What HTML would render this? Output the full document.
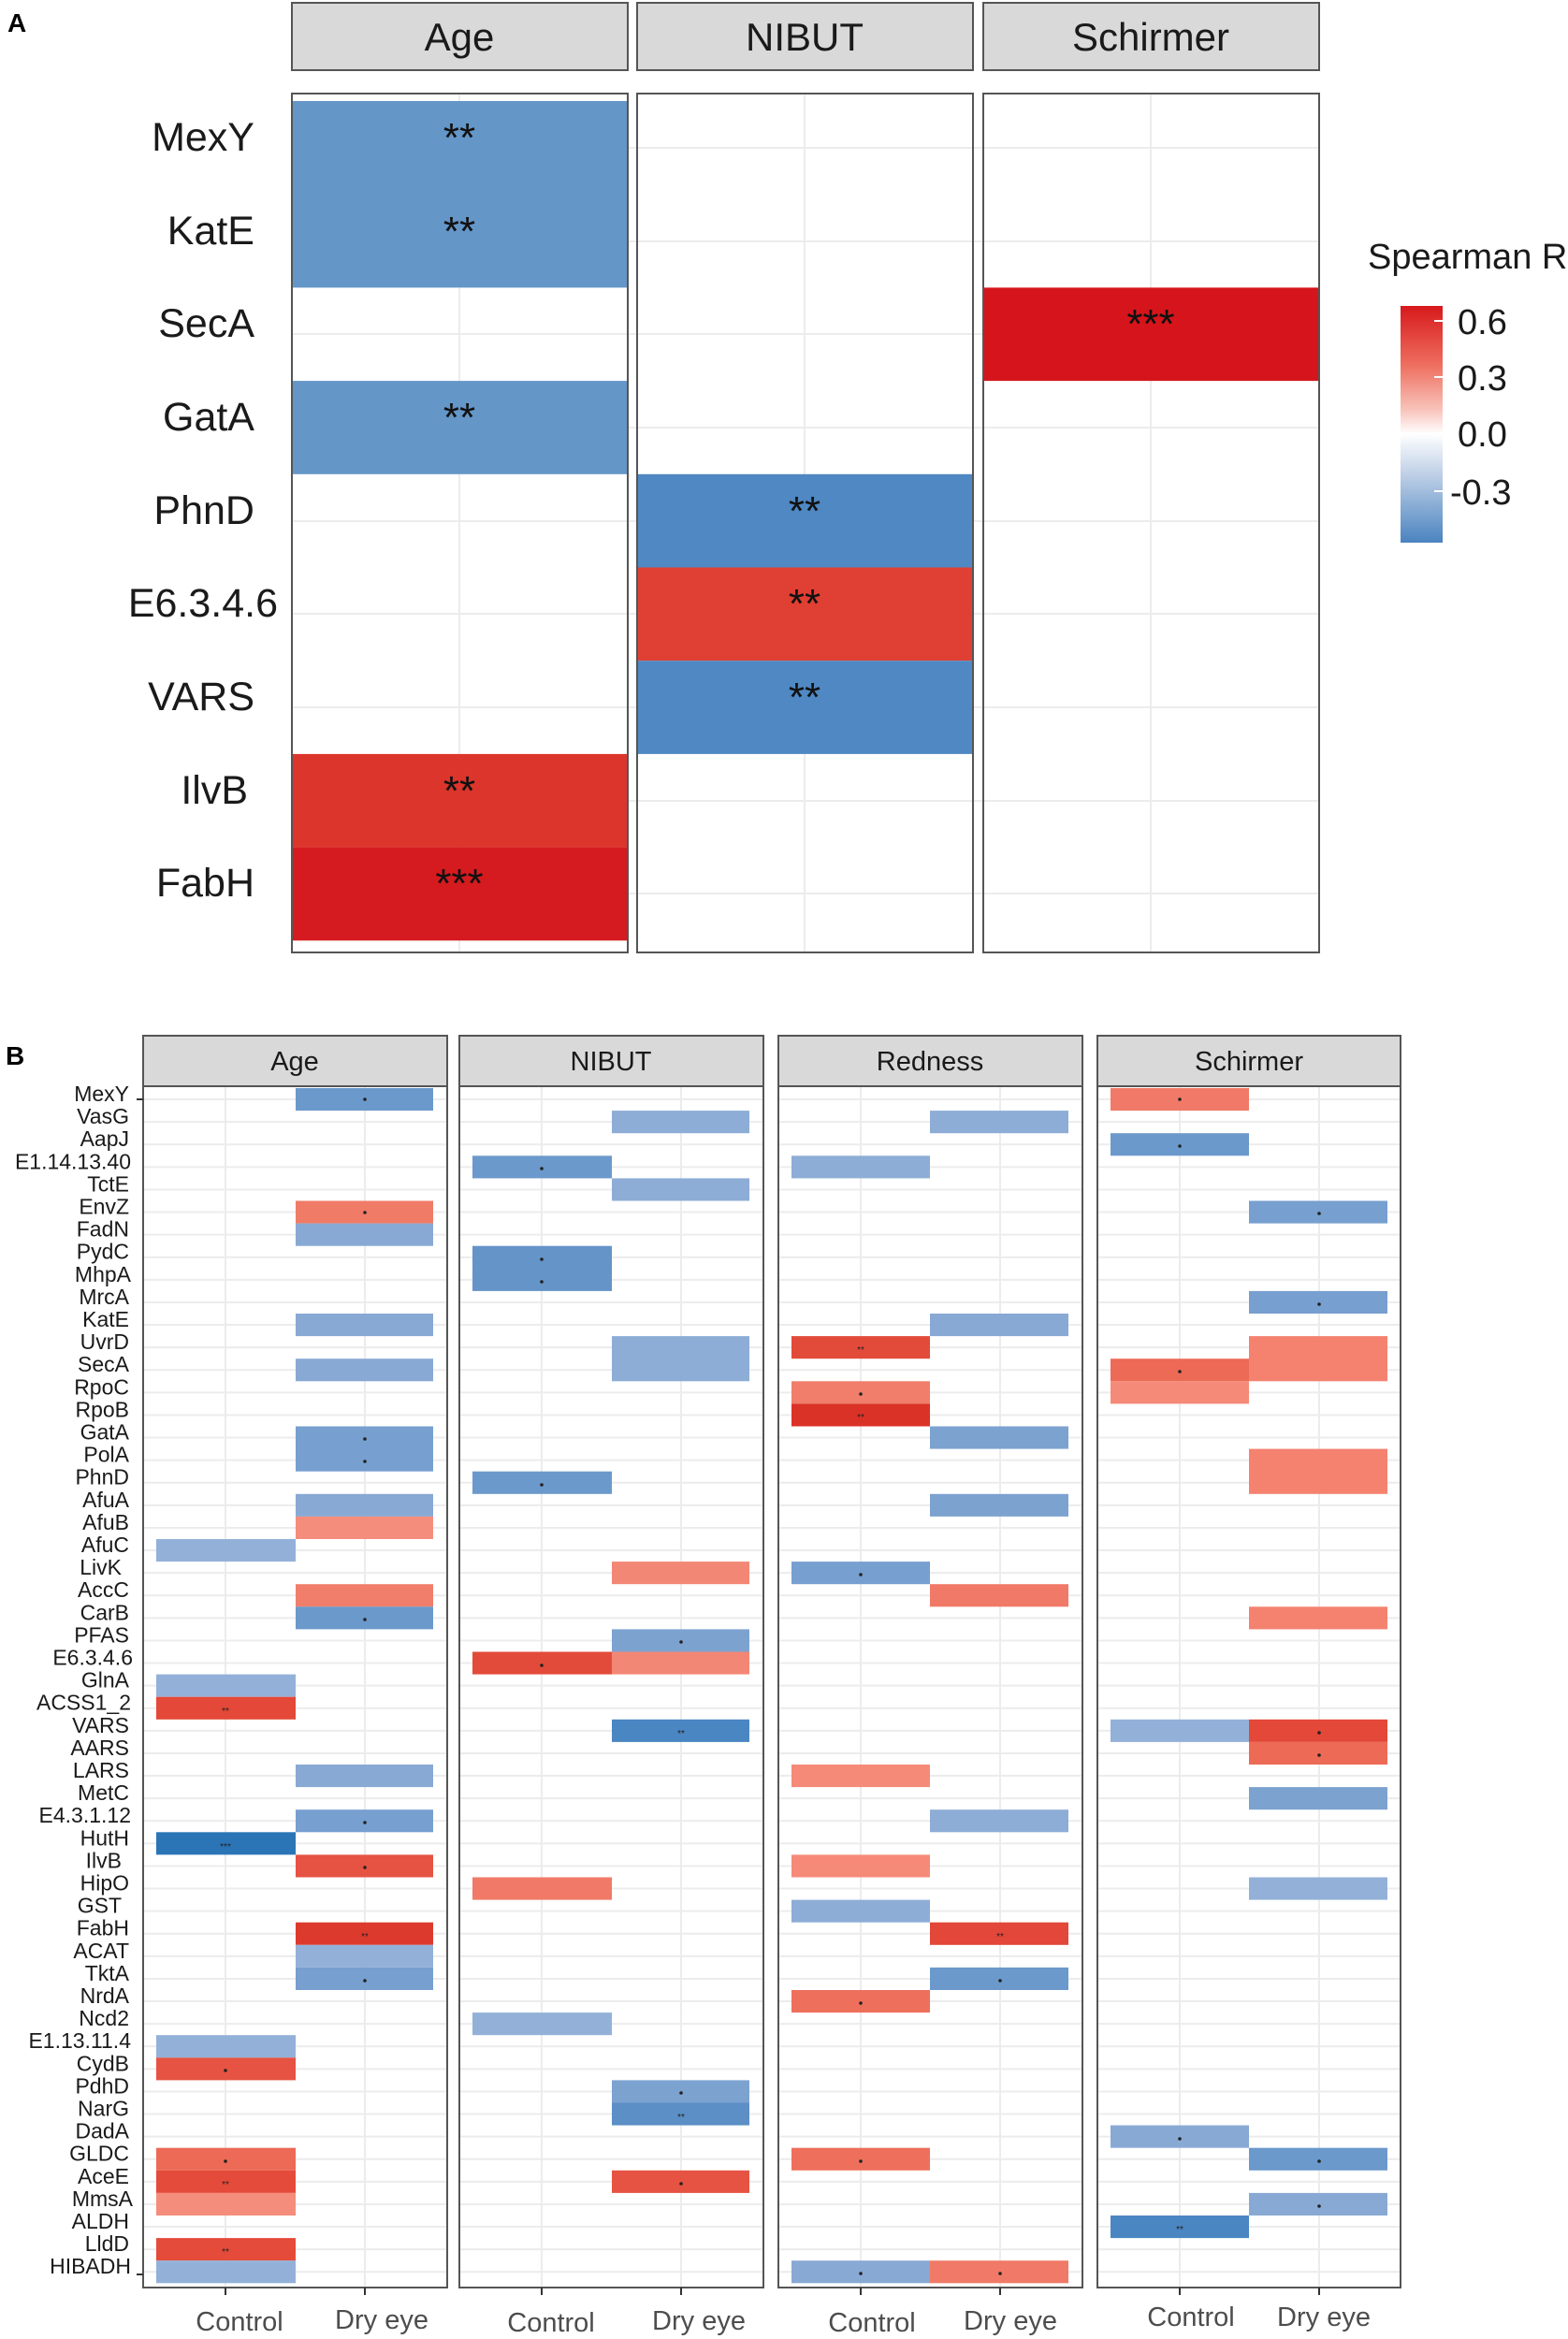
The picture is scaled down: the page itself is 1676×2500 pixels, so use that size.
<!DOCTYPE html>
<html><head><meta charset="utf-8">
<style>
html,body{margin:0;padding:0;background:#fff;}
svg{display:block;font-family:"Liberation Sans",sans-serif;}
</style></head>
<body>
<svg width="1676" height="2500" viewBox="0 0 1676 2500" xmlns="http://www.w3.org/2000/svg">
<defs>
<linearGradient id="cb" x1="0" y1="0" x2="0" y2="1">
<stop offset="0" stop-color="#d7191c"/>
<stop offset="0.25" stop-color="#ee6f5f"/>
<stop offset="0.44" stop-color="#f8c4bb"/>
<stop offset="0.54" stop-color="#ffffff"/>
<stop offset="0.7" stop-color="#c3d3e8"/>
<stop offset="1" stop-color="#4a83c0"/>
</linearGradient>
</defs>
<rect width="1676" height="2500" fill="#fff"/>

<!-- ================= PANEL A ================= -->
<text x="8" y="34" font-size="28" font-weight="bold">A</text>
<g fill="#d9d9d9" stroke="#555" stroke-width="2">
<rect x="312" y="3" width="359" height="72"/>
<rect x="681" y="3" width="359" height="72"/>
<rect x="1051" y="3" width="359" height="72"/>
</g>
<g font-size="42" text-anchor="middle" fill="#1a1a1a">
<text x="491" y="54">Age</text>
<text x="860" y="54">NIBUT</text>
<text x="1230" y="54">Schirmer</text>
</g>
<g stroke="#ececec" stroke-width="2">
<line x1="491" y1="100" x2="491" y2="1018"/><line x1="860" y1="100" x2="860" y2="1018"/><line x1="1230" y1="100" x2="1230" y2="1018"/>
<line x1="312" y1="158" x2="1410" y2="158"/><line x1="312" y1="258" x2="1410" y2="258"/><line x1="312" y1="357" x2="1410" y2="357"/><line x1="312" y1="457" x2="1410" y2="457"/><line x1="312" y1="557" x2="1410" y2="557"/><line x1="312" y1="656" x2="1410" y2="656"/><line x1="312" y1="756" x2="1410" y2="756"/><line x1="312" y1="856" x2="1410" y2="856"/><line x1="312" y1="955" x2="1410" y2="955"/>
</g>
<rect x="312" y="108" width="359" height="199.4" fill="#6496c8"/>
<rect x="312" y="407.1" width="359" height="99.7" fill="#6496c8"/>
<rect x="312" y="805.9" width="359" height="99.7" fill="#dc352b"/>
<rect x="312" y="905.6" width="359" height="99.7" fill="#d51b1f"/>
<rect x="681" y="506.8" width="359" height="99.7" fill="#4f88c2"/>
<rect x="681" y="606.5" width="359" height="99.7" fill="#e03f33"/>
<rect x="681" y="706.2" width="359" height="99.7" fill="#4f88c2"/>
<rect x="1051" y="307.4" width="359" height="99.7" fill="#d5151b"/>
<g fill="none" stroke="#555" stroke-width="2">
<rect x="312" y="100" width="359" height="918"/>
<rect x="681" y="100" width="359" height="918"/>
<rect x="1051" y="100" width="359" height="918"/>
</g>
<g font-size="44" text-anchor="middle" fill="#111">
<text x="491" y="162">**</text>
<text x="491" y="262">**</text>
<text x="491" y="461">**</text>
<text x="491" y="860">**</text>
<text x="491" y="959">***</text>
<text x="860" y="561">**</text>
<text x="860" y="660">**</text>
<text x="860" y="760">**</text>
<text x="1230" y="361">***</text>
</g>
<g font-size="43" text-anchor="end" fill="#1a1a1a">
<text x="272" y="161">MexY</text>
<text x="272" y="261">KatE</text>
<text x="272" y="360">SecA</text>
<text x="272" y="460">GatA</text>
<text x="272" y="560">PhnD</text>
<text x="297" y="659">E6.3.4.6</text>
<text x="272" y="759">VARS</text>
<text x="265" y="859">IlvB</text>
<text x="272" y="958">FabH</text>
</g>
<!-- legend -->
<text x="1462" y="287" font-size="38" fill="#1a1a1a">Spearman R</text>
<rect x="1497" y="327" width="45" height="253" fill="url(#cb)"/>
<g stroke="#fff" stroke-width="2">
<line x1="1533" y1="343" x2="1542" y2="343"/><line x1="1533" y1="403" x2="1542" y2="403"/><line x1="1533" y1="463" x2="1542" y2="463"/><line x1="1533" y1="525" x2="1542" y2="525"/>
</g>
<g font-size="38" fill="#1a1a1a">
<text x="1558" y="357">0.6</text>
<text x="1558" y="417">0.3</text>
<text x="1558" y="477">0.0</text>
<text x="1550" y="539">-0.3</text>
</g>

<!-- ================= PANEL B ================= -->
<text x="6" y="1138" font-size="28" font-weight="bold">B</text>
<g fill="#d9d9d9" stroke="#555" stroke-width="2">
<rect x="153" y="1107" width="325" height="54"/>
<rect x="491" y="1107" width="325" height="54"/>
<rect x="832" y="1107" width="325" height="54"/>
<rect x="1173" y="1107" width="324" height="54"/>
</g>
<g font-size="29" text-anchor="middle" fill="#1a1a1a">
<text x="315" y="1144">Age</text>
<text x="653" y="1144">NIBUT</text>
<text x="994" y="1144">Redness</text>
<text x="1335" y="1144">Schirmer</text>
</g>

<g transform="translate(0,1163) scale(1,24.1)">
 <g stroke="#ececec" stroke-width="2">
  <line x1="153" x2="1497" y1="0.5" y2="0.5" vector-effect="non-scaling-stroke"/><line x1="153" x2="1497" y1="1.5" y2="1.5" vector-effect="non-scaling-stroke"/><line x1="153" x2="1497" y1="2.5" y2="2.5" vector-effect="non-scaling-stroke"/><line x1="153" x2="1497" y1="3.5" y2="3.5" vector-effect="non-scaling-stroke"/><line x1="153" x2="1497" y1="4.5" y2="4.5" vector-effect="non-scaling-stroke"/><line x1="153" x2="1497" y1="5.5" y2="5.5" vector-effect="non-scaling-stroke"/><line x1="153" x2="1497" y1="6.5" y2="6.5" vector-effect="non-scaling-stroke"/><line x1="153" x2="1497" y1="7.5" y2="7.5" vector-effect="non-scaling-stroke"/><line x1="153" x2="1497" y1="8.5" y2="8.5" vector-effect="non-scaling-stroke"/><line x1="153" x2="1497" y1="9.5" y2="9.5" vector-effect="non-scaling-stroke"/>
  <line x1="153" x2="1497" y1="10.5" y2="10.5" vector-effect="non-scaling-stroke"/><line x1="153" x2="1497" y1="11.5" y2="11.5" vector-effect="non-scaling-stroke"/><line x1="153" x2="1497" y1="12.5" y2="12.5" vector-effect="non-scaling-stroke"/><line x1="153" x2="1497" y1="13.5" y2="13.5" vector-effect="non-scaling-stroke"/><line x1="153" x2="1497" y1="14.5" y2="14.5" vector-effect="non-scaling-stroke"/><line x1="153" x2="1497" y1="15.5" y2="15.5" vector-effect="non-scaling-stroke"/><line x1="153" x2="1497" y1="16.5" y2="16.5" vector-effect="non-scaling-stroke"/><line x1="153" x2="1497" y1="17.5" y2="17.5" vector-effect="non-scaling-stroke"/><line x1="153" x2="1497" y1="18.5" y2="18.5" vector-effect="non-scaling-stroke"/><line x1="153" x2="1497" y1="19.5" y2="19.5" vector-effect="non-scaling-stroke"/>
  <line x1="153" x2="1497" y1="20.5" y2="20.5" vector-effect="non-scaling-stroke"/><line x1="153" x2="1497" y1="21.5" y2="21.5" vector-effect="non-scaling-stroke"/><line x1="153" x2="1497" y1="22.5" y2="22.5" vector-effect="non-scaling-stroke"/><line x1="153" x2="1497" y1="23.5" y2="23.5" vector-effect="non-scaling-stroke"/><line x1="153" x2="1497" y1="24.5" y2="24.5" vector-effect="non-scaling-stroke"/><line x1="153" x2="1497" y1="25.5" y2="25.5" vector-effect="non-scaling-stroke"/><line x1="153" x2="1497" y1="26.5" y2="26.5" vector-effect="non-scaling-stroke"/><line x1="153" x2="1497" y1="27.5" y2="27.5" vector-effect="non-scaling-stroke"/><line x1="153" x2="1497" y1="28.5" y2="28.5" vector-effect="non-scaling-stroke"/><line x1="153" x2="1497" y1="29.5" y2="29.5" vector-effect="non-scaling-stroke"/>
  <line x1="153" x2="1497" y1="30.5" y2="30.5" vector-effect="non-scaling-stroke"/><line x1="153" x2="1497" y1="31.5" y2="31.5" vector-effect="non-scaling-stroke"/><line x1="153" x2="1497" y1="32.5" y2="32.5" vector-effect="non-scaling-stroke"/><line x1="153" x2="1497" y1="33.5" y2="33.5" vector-effect="non-scaling-stroke"/><line x1="153" x2="1497" y1="34.5" y2="34.5" vector-effect="non-scaling-stroke"/><line x1="153" x2="1497" y1="35.5" y2="35.5" vector-effect="non-scaling-stroke"/><line x1="153" x2="1497" y1="36.5" y2="36.5" vector-effect="non-scaling-stroke"/><line x1="153" x2="1497" y1="37.5" y2="37.5" vector-effect="non-scaling-stroke"/><line x1="153" x2="1497" y1="38.5" y2="38.5" vector-effect="non-scaling-stroke"/><line x1="153" x2="1497" y1="39.5" y2="39.5" vector-effect="non-scaling-stroke"/>
  <line x1="153" x2="1497" y1="40.5" y2="40.5" vector-effect="non-scaling-stroke"/><line x1="153" x2="1497" y1="41.5" y2="41.5" vector-effect="non-scaling-stroke"/><line x1="153" x2="1497" y1="42.5" y2="42.5" vector-effect="non-scaling-stroke"/><line x1="153" x2="1497" y1="43.5" y2="43.5" vector-effect="non-scaling-stroke"/><line x1="153" x2="1497" y1="44.5" y2="44.5" vector-effect="non-scaling-stroke"/><line x1="153" x2="1497" y1="45.5" y2="45.5" vector-effect="non-scaling-stroke"/><line x1="153" x2="1497" y1="46.5" y2="46.5" vector-effect="non-scaling-stroke"/><line x1="153" x2="1497" y1="47.5" y2="47.5" vector-effect="non-scaling-stroke"/><line x1="153" x2="1497" y1="48.5" y2="48.5" vector-effect="non-scaling-stroke"/><line x1="153" x2="1497" y1="49.5" y2="49.5" vector-effect="non-scaling-stroke"/>
  <line x1="153" x2="1497" y1="50.5" y2="50.5" vector-effect="non-scaling-stroke"/><line x1="153" x2="1497" y1="51.5" y2="51.5" vector-effect="non-scaling-stroke"/><line x1="153" x2="1497" y1="52.5" y2="52.5" vector-effect="non-scaling-stroke"/>
 </g>
</g>
<g fill="#fff">
<rect x="479" y="1161" width="11" height="1290"/><rect x="817" y="1161" width="14" height="1290"/><rect x="1158" y="1161" width="14" height="1290"/>
</g>
<g stroke="#ececec" stroke-width="2">
<line x1="241" y1="1161" x2="241" y2="2445"/><line x1="390" y1="1161" x2="390" y2="2445"/>
<line x1="579" y1="1161" x2="579" y2="2445"/><line x1="728" y1="1161" x2="728" y2="2445"/>
<line x1="920" y1="1161" x2="920" y2="2445"/><line x1="1069" y1="1161" x2="1069" y2="2445"/>
<line x1="1261" y1="1161" x2="1261" y2="2445"/><line x1="1410" y1="1161" x2="1410" y2="2445"/>
</g>

<g transform="translate(0,1163) scale(1,24.1)">
 <rect x="316" y="0" width="147" height="1" fill="#6b99cb"/>
 <rect x="316" y="5" width="147" height="1" fill="#f07b66"/>
 <rect x="316" y="6" width="147" height="1" fill="#88a9d4"/>
 <rect x="316" y="10" width="147" height="1" fill="#88a9d4"/>
 <rect x="316" y="12" width="147" height="1" fill="#88a9d4"/>
 <rect x="316" y="15" width="147" height="2" fill="#779fcf"/>
 <rect x="316" y="18" width="147" height="1" fill="#88a9d4"/>
 <rect x="316" y="19" width="147" height="1" fill="#f58d7d"/>
 <rect x="167" y="20" width="149" height="1" fill="#93b1d8"/>
 <rect x="316" y="22" width="147" height="1" fill="#f07e6a"/>
 <rect x="316" y="23" width="147" height="1" fill="#6b99cb"/>
 <rect x="167" y="26" width="149" height="1" fill="#93b1d8"/>
 <rect x="167" y="27" width="149" height="1" fill="#e34838"/>
 <rect x="316" y="30" width="147" height="1" fill="#88a9d4"/>
 <rect x="316" y="32" width="147" height="1" fill="#779fcf"/>
 <rect x="167" y="33" width="149" height="1" fill="#2b75b6"/>
 <rect x="316" y="34" width="147" height="1" fill="#e65342"/>
 <rect x="316" y="37" width="147" height="1" fill="#dd3a2e"/>
 <rect x="316" y="38" width="147" height="1" fill="#93b1d8"/>
 <rect x="316" y="39" width="147" height="1" fill="#779fcf"/>
 <rect x="167" y="42" width="149" height="1" fill="#93b1d8"/>
 <rect x="167" y="43" width="149" height="1" fill="#e65342"/>
 <rect x="167" y="47" width="149" height="1" fill="#ec6a56"/>
 <rect x="167" y="48" width="149" height="1" fill="#e44b3a"/>
 <rect x="167" y="49" width="149" height="1" fill="#f58d7d"/>
 <rect x="167" y="51" width="149" height="1" fill="#e44b3a"/>
 <rect x="167" y="52" width="149" height="1" fill="#93b1d8"/>

 <rect x="654" y="1" width="147" height="1" fill="#8dadd6"/>
 <rect x="505" y="3" width="149" height="1" fill="#6b99cb"/>
 <rect x="654" y="4" width="147" height="1" fill="#8dadd6"/>
 <rect x="505" y="7" width="149" height="2" fill="#6494c8"/>
 <rect x="654" y="11" width="147" height="2" fill="#8dadd6"/>
 <rect x="505" y="17" width="149" height="1" fill="#6b99cb"/>
 <rect x="654" y="21" width="147" height="1" fill="#f38775"/>
 <rect x="654" y="24" width="147" height="1" fill="#7ca2d0"/>
 <rect x="505" y="25" width="149" height="1" fill="#e24b3a"/>
 <rect x="654" y="25" width="147" height="1" fill="#f38775"/>
 <rect x="654" y="28" width="147" height="1" fill="#4a86c2"/>
 <rect x="505" y="35" width="149" height="1" fill="#f07a67"/>
 <rect x="505" y="41" width="149" height="1" fill="#93b1d8"/>
 <rect x="654" y="44" width="147" height="1" fill="#7ca2d0"/>
 <rect x="654" y="45" width="147" height="1" fill="#5b8fc6"/>
 <rect x="654" y="48" width="147" height="1" fill="#e65342"/>

 <rect x="994" y="1" width="148" height="1" fill="#8dadd6"/>
 <rect x="846" y="3" width="148" height="1" fill="#8dadd6"/>
 <rect x="994" y="10" width="148" height="1" fill="#88a9d4"/>
 <rect x="846" y="11" width="148" height="1" fill="#e24b3a"/>
 <rect x="846" y="13" width="148" height="1" fill="#f07e6a"/>
 <rect x="846" y="14" width="148" height="1" fill="#db3228"/>
 <rect x="994" y="15" width="148" height="1" fill="#7ca2d0"/>
 <rect x="994" y="18" width="148" height="1" fill="#7ca2d0"/>
 <rect x="846" y="21" width="148" height="1" fill="#779fcf"/>
 <rect x="994" y="22" width="148" height="1" fill="#f07a67"/>
 <rect x="846" y="30" width="148" height="1" fill="#f58a78"/>
 <rect x="994" y="32" width="148" height="1" fill="#8dadd6"/>
 <rect x="846" y="34" width="148" height="1" fill="#f58a78"/>
 <rect x="846" y="36" width="148" height="1" fill="#8dadd6"/>
 <rect x="994" y="37" width="148" height="1" fill="#e2473a"/>
 <rect x="994" y="39" width="148" height="1" fill="#6b99cb"/>
 <rect x="846" y="40" width="148" height="1" fill="#ee6f5c"/>
 <rect x="846" y="47" width="148" height="1" fill="#ee6f5c"/>
 <rect x="846" y="52" width="148" height="1" fill="#88a9d4"/>
 <rect x="994" y="52" width="148" height="1" fill="#f07a67"/>

 <rect x="1187" y="0" width="148" height="1" fill="#f07a67"/>
 <rect x="1187" y="2" width="148" height="1" fill="#6b99cb"/>
 <rect x="1335" y="5" width="148" height="1" fill="#779fcf"/>
 <rect x="1335" y="9" width="148" height="1" fill="#779fcf"/>
 <rect x="1335" y="11" width="148" height="2" fill="#f4826f"/>
 <rect x="1187" y="12" width="148" height="1" fill="#ec6a56"/>
 <rect x="1187" y="13" width="148" height="1" fill="#f58a78"/>
 <rect x="1335" y="16" width="148" height="2" fill="#f4826f"/>
 <rect x="1335" y="23" width="148" height="1" fill="#f4826f"/>
 <rect x="1187" y="28" width="148" height="1" fill="#93b1d8"/>
 <rect x="1335" y="28" width="148" height="1" fill="#e34838"/>
 <rect x="1335" y="29" width="148" height="1" fill="#ec6a56"/>
 <rect x="1335" y="31" width="148" height="1" fill="#7ca2d0"/>
 <rect x="1335" y="35" width="148" height="1" fill="#93b1d8"/>
 <rect x="1187" y="46" width="148" height="1" fill="#88a9d4"/>
 <rect x="1335" y="47" width="148" height="1" fill="#6b99cb"/>
 <rect x="1335" y="49" width="148" height="1" fill="#88a9d4"/>
 <rect x="1187" y="50" width="148" height="1" fill="#4a86c2"/>
</g>

<g fill="none" stroke="#555" stroke-width="2">
<rect x="153" y="1161" width="325" height="1284"/>
<rect x="491" y="1161" width="325" height="1284"/>
<rect x="832" y="1161" width="325" height="1284"/>
<rect x="1173" y="1161" width="324" height="1284"/>
</g>

<g stroke="#333" stroke-width="2">
<line x1="146" x2="153" y1="1175" y2="1175"/><line x1="146" x2="153" y1="2431" y2="2431"/>
</g>

<g font-size="23" text-anchor="end" fill="#1a1a1a">
<text x="138" y="1177">MexY</text>
<text x="138" y="1201.1">VasG</text>
<text x="138" y="1225.2">AapJ</text>
<text x="140" y="1249.3">E1.14.13.40</text>
<text x="138" y="1273.4">TctE</text>
<text x="138" y="1297.5">EnvZ</text>
<text x="138" y="1321.6">FadN</text>
<text x="138" y="1345.7">PydC</text>
<text x="140" y="1369.8">MhpA</text>
<text x="138" y="1393.9">MrcA</text>
<text x="138" y="1418">KatE</text>
<text x="138" y="1442.1">UvrD</text>
<text x="138" y="1466.2">SecA</text>
<text x="138" y="1490.3">RpoC</text>
<text x="138" y="1514.4">RpoB</text>
<text x="138" y="1538.5">GatA</text>
<text x="138" y="1562.6">PolA</text>
<text x="138" y="1586.7">PhnD</text>
<text x="138" y="1610.8">AfuA</text>
<text x="138" y="1634.9">AfuB</text>
<text x="138" y="1659">AfuC</text>
<text x="130" y="1683.1">LivK</text>
<text x="138" y="1707.2">AccC</text>
<text x="138" y="1731.3">CarB</text>
<text x="138" y="1755.4">PFAS</text>
<text x="142" y="1779.5">E6.3.4.6</text>
<text x="138" y="1803.6">GlnA</text>
<text x="140" y="1827.7">ACSS1_2</text>
<text x="138" y="1851.8">VARS</text>
<text x="138" y="1875.9">AARS</text>
<text x="138" y="1900">LARS</text>
<text x="138" y="1924.1">MetC</text>
<text x="140" y="1948.2">E4.3.1.12</text>
<text x="138" y="1972.3">HutH</text>
<text x="130" y="1996.4">IlvB</text>
<text x="138" y="2020.5">HipO</text>
<text x="130" y="2044.6">GST</text>
<text x="138" y="2068.7">FabH</text>
<text x="138" y="2092.8">ACAT</text>
<text x="138" y="2116.9">TktA</text>
<text x="138" y="2141">NrdA</text>
<text x="138" y="2165.1">Ncd2</text>
<text x="140" y="2189.2">E1.13.11.4</text>
<text x="138" y="2213.3">CydB</text>
<text x="138" y="2237.4">PdhD</text>
<text x="138" y="2261.5">NarG</text>
<text x="138" y="2285.6">DadA</text>
<text x="138" y="2309.7">GLDC</text>
<text x="138" y="2333.8">AceE</text>
<text x="142" y="2357.9">MmsA</text>
<text x="138" y="2382">ALDH</text>
<text x="138" y="2406.1">LldD</text>
<text x="140" y="2430.2">HIBADH</text>
</g>

<g stroke="#333" stroke-width="2">
<line x1="241" x2="241" y1="2445" y2="2453"/><line x1="390" x2="390" y1="2445" y2="2453"/>
<line x1="579" x2="579" y1="2445" y2="2453"/><line x1="728" x2="728" y1="2445" y2="2453"/>
<line x1="920" x2="920" y1="2445" y2="2453"/><line x1="1069" x2="1069" y1="2445" y2="2453"/>
<line x1="1261" x2="1261" y1="2445" y2="2453"/><line x1="1410" x2="1410" y1="2445" y2="2453"/>
</g>
<g font-size="29" text-anchor="middle" fill="#4d4d4d">
<text x="256" y="2491">Control</text><text x="408" y="2489">Dry eye</text>
<text x="589" y="2492">Control</text><text x="747" y="2490">Dry eye</text>
<text x="932" y="2492">Control</text><text x="1080" y="2490">Dry eye</text>
<text x="1273" y="2486">Control</text><text x="1415" y="2486">Dry eye</text>
</g>

<g fill="#222">
<circle cx="390" cy="1175" r="1.8"/><circle cx="390" cy="1296" r="1.8"/><circle cx="390" cy="1538" r="1.8"/><circle cx="390" cy="1562" r="1.8"/><circle cx="390" cy="1731" r="1.8"/><circle cx="390" cy="1948" r="1.8"/><circle cx="390" cy="1996" r="1.8"/><circle cx="390" cy="2117" r="1.8"/>
<circle cx="241" cy="2213" r="1.8"/><circle cx="241" cy="2310" r="1.8"/>
<circle cx="579" cy="1249" r="1.8"/><circle cx="579" cy="1346" r="1.8"/><circle cx="579" cy="1370" r="1.8"/><circle cx="579" cy="1587" r="1.8"/><circle cx="579" cy="1780" r="1.8"/>
<circle cx="728" cy="1755" r="1.8"/><circle cx="728" cy="2237" r="1.8"/><circle cx="728" cy="2334" r="1.8"/>
<circle cx="920" cy="1490" r="1.8"/><circle cx="920" cy="1683" r="1.8"/><circle cx="920" cy="2141" r="1.8"/><circle cx="920" cy="2310" r="1.8"/><circle cx="920" cy="2430" r="1.8"/>
<circle cx="1069" cy="2117" r="1.8"/><circle cx="1069" cy="2430" r="1.8"/>
<circle cx="1261" cy="1175" r="1.8"/><circle cx="1261" cy="1225" r="1.8"/><circle cx="1261" cy="1466" r="1.8"/><circle cx="1261" cy="2286" r="1.8"/>
<circle cx="1410" cy="1297" r="1.8"/><circle cx="1410" cy="1394" r="1.8"/><circle cx="1410" cy="1852" r="1.8"/><circle cx="1410" cy="1876" r="1.8"/><circle cx="1410" cy="2310" r="1.8"/><circle cx="1410" cy="2358" r="1.8"/>
</g>
<g font-size="10" text-anchor="middle" fill="#222">
<text x="241" y="1832">**</text><text x="241" y="1977">***</text><text x="241" y="2338">**</text><text x="241" y="2410">**</text>
<text x="390" y="2073">**</text><text x="728" y="1856">**</text><text x="728" y="2266">**</text>
<text x="920" y="1446">**</text><text x="920" y="1518">**</text><text x="1069" y="2073">**</text><text x="1261" y="2386">**</text>
</g>
</svg>
</body></html>
